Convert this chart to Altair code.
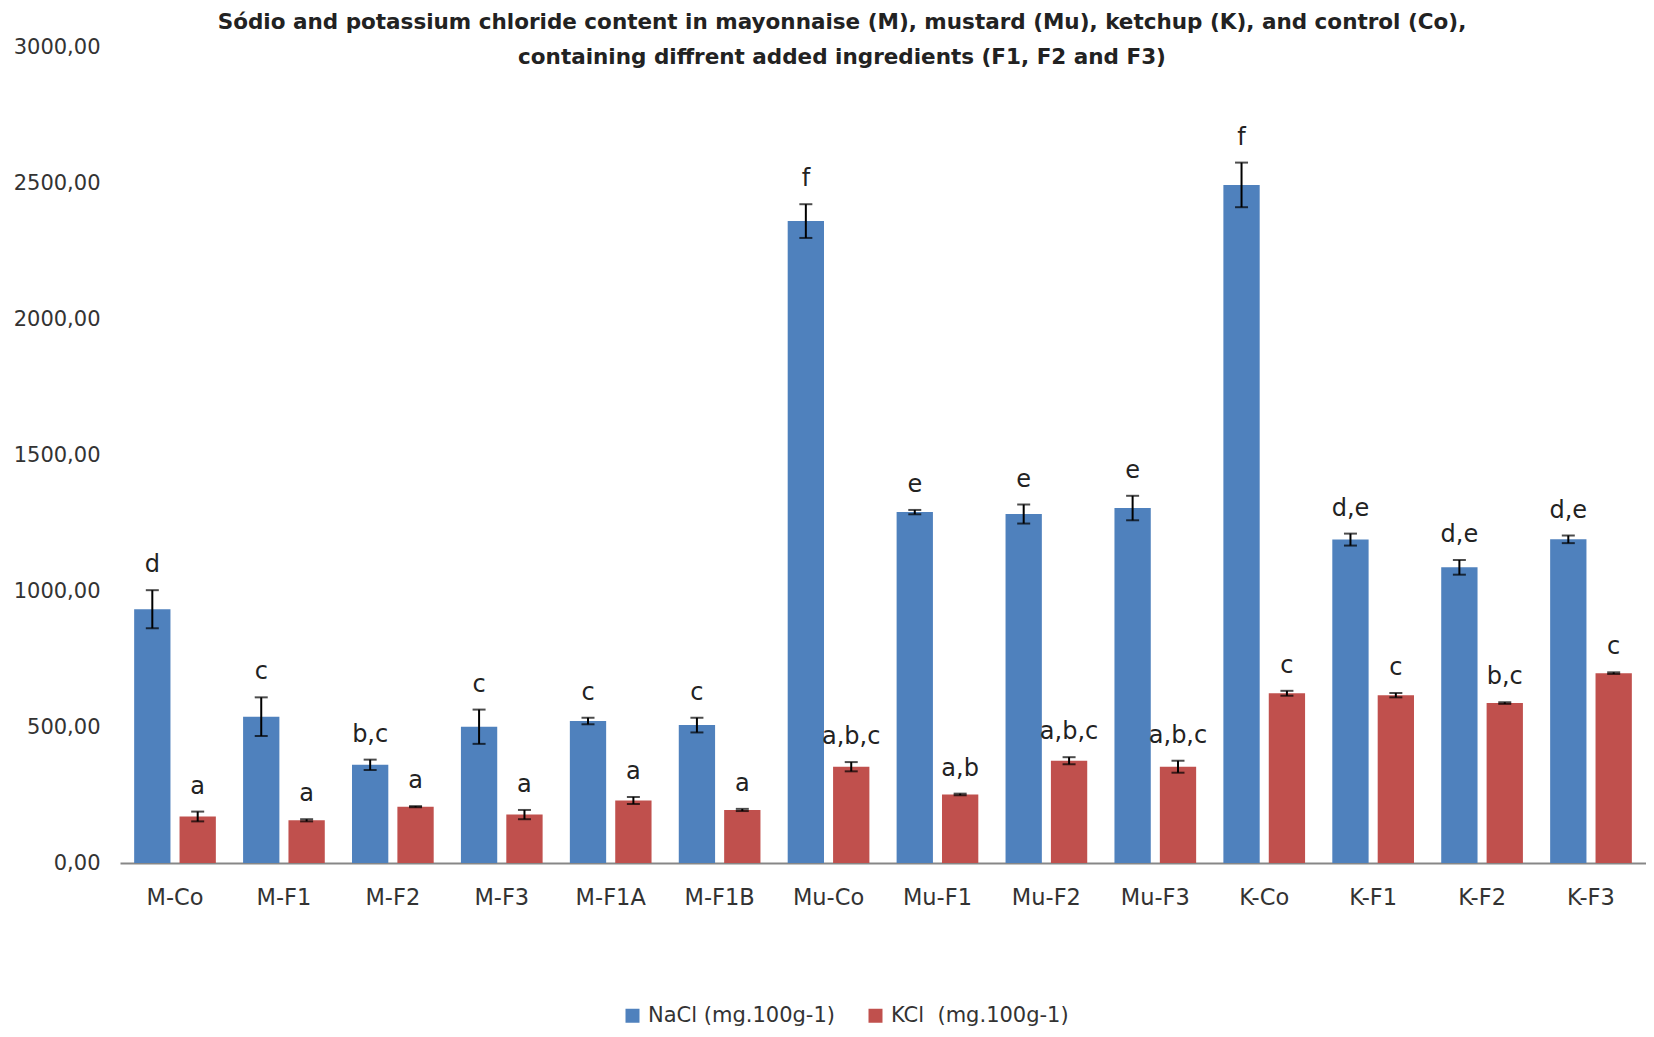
import altair as alt
import pandas as pd

# ---- data ----
categories = ["M-Co", "M-F1", "M-F2", "M-F3", "M-F1A", "M-F1B",
              "Mu-Co", "Mu-F1", "Mu-F2", "Mu-F3",
              "K-Co", "K-F1", "K-F2", "K-F3"]
nacl_mean = [933, 538, 361, 501, 522, 507, 2360, 1290, 1283, 1305, 2493, 1189, 1087, 1190]
nacl_err = [70, 71, 19, 63, 12, 27, 62, 8, 35, 45, 82, 22, 27, 14]
kcl_mean = [171, 157, 207, 178, 230, 195, 354, 252, 376, 354, 624, 617, 588, 698]
kcl_err = [18, 4, 2, 17, 13, 4, 17, 3, 13, 22, 9, 8, 3, 3]
nacl_letters = ["d", "c", "b,c", "c", "c", "c", "f", "e", "e", "e", "f", "d,e", "d,e", "d,e"]
kcl_letters = ["a", "a", "a", "a", "a", "a", "a,b,c", "a,b", "a,b,c", "a,b,c", "c", "c", "b,c", "c"]
series_names = ["NaCl (mg.100g-1)", "KCl\u00a0 (mg.100g-1)"]
series_colors = ["#4F81BD", "#C0504D"]
y_ticks = [0, 500, 1000, 1500, 2000, 2500, 3000]
title_lines = [
    "Sódio and potassium chloride content in mayonnaise (M), mustard (Mu), ketchup (K), and control (Co),",
    "containing diffrent added ingredients (F1, F2 and F3)",
]

rows = []
for i, c in enumerate(categories):
    rows.append(dict(cat=c, series=series_names[0], mean=nacl_mean[i], err=nacl_err[i], letter=nacl_letters[i]))
    rows.append(dict(cat=c, series=series_names[1], mean=kcl_mean[i], err=kcl_err[i], letter=kcl_letters[i]))
df = pd.DataFrame(rows)
df["low"] = df["mean"] - df["err"]
df["high"] = df["mean"] + df["err"]

FONT = "DejaVu Sans"
TXT = "#333333"

x = alt.X("cat:N", sort=categories,
          scale=alt.Scale(paddingInner=0.25, paddingOuter=0.13),
          axis=alt.Axis(title=None, labelAngle=0, ticks=False, grid=False,
                        domainColor="#878787", domainWidth=2,
                        labelFont=FONT, labelFontSize=22.5, labelColor=TXT,
                        labelPadding=23))
xo = alt.XOffset("series:N", sort=series_names,
                 scale=alt.Scale(domain=series_names, paddingInner=0.2))
yscale = alt.Scale(domain=[0, 3000])
y = alt.Y("mean:Q", scale=yscale,
          axis=alt.Axis(title=None, values=y_ticks,
                        labelExpr="replace(format(datum.value, '.2f'), '.', ',')",
                        domain=False, ticks=False, grid=False,
                        labelFont=FONT, labelFontSize=21, labelColor=TXT,
                        labelPadding=20))
color = alt.Color("series:N", sort=series_names,
                  scale=alt.Scale(domain=series_names, range=series_colors),
                  legend=alt.Legend(title=None, orient="none", legendX=502, legendY=958,
                                    direction="horizontal", symbolType="square",
                                    symbolSize=196, symbolStrokeWidth=0,
                                    labelFont=FONT, labelFontSize=21, labelColor=TXT,
                                    labelLimit=400, columnPadding=30, labelOffset=5))

base = alt.Chart(df)

bars = base.mark_bar().encode(x=x, xOffset=xo, y=y, color=color)

rules = base.mark_rule(color="black", strokeWidth=2).encode(
    x=x, xOffset=xo,
    y=alt.Y("low:Q", scale=yscale, title=None),
    y2="high:Q")

cap_low = base.mark_tick(color="black", thickness=2, size=13).encode(
    x=x, xOffset=xo, y=alt.Y("low:Q", scale=yscale, title=None))
cap_high = base.mark_tick(color="black", thickness=2, size=13).encode(
    x=x, xOffset=xo, y=alt.Y("high:Q", scale=yscale, title=None))

letters = base.mark_text(font=FONT, fontSize=24, baseline="middle", dy=-25, color="#222222").encode(
    x=x, xOffset=xo, y=alt.Y("high:Q", scale=yscale, title=None), text="letter:N")

chart = alt.layer(bars, rules, cap_low, cap_high, letters).properties(
    width=1526, height=816,
    title=alt.TitleParams(text=title_lines, font=FONT, fontSize=21.5, fontWeight="bold",
                          color="#222222", anchor="middle", frame="group",
                          offset=-32, dx=-41, lineHeight=35),
    autosize=alt.AutoSizeParams(type="none"),
    padding={"left": 112, "top": 39, "right": 0, "bottom": 174},
).configure_view(stroke=None)

chart.save("out.html", embed_options={"renderer": "svg", "actions": False})
